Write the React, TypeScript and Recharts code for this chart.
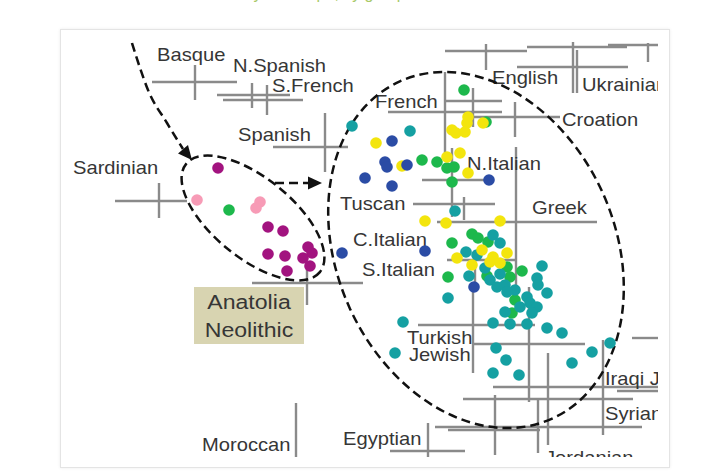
import React from 'react';
import { ComposedChart, Scatter, Line, XAxis, YAxis, ErrorBar } from 'recharts';

// PCA positions (PC1 → x, PC2 → y, y grows downward)
const anatoliaNeolithic = [
  { x: 218, y: 168 }, { x: 268, y: 227 }, { x: 283, y: 231 }, { x: 268, y: 254 }, { x: 285, y: 256 },
  { x: 308, y: 247 }, { x: 312, y: 253 }, { x: 303, y: 258 }, { x: 310, y: 266 }, { x: 287, y: 271 },
];
const anatoliaPink = [{ x: 197, y: 200 }, { x: 260, y: 202 }, { x: 256, y: 208 }];
const greenSamples = [
  { x: 229, y: 210 }, { x: 464, y: 90 }, { x: 486, y: 122 }, { x: 422, y: 160 }, { x: 437, y: 162 },
  { x: 447, y: 168 }, { x: 454, y: 167 }, { x: 452, y: 182 }, { x: 472, y: 234 }, { x: 452, y: 243 },
  { x: 488, y: 242 }, { x: 478, y: 238 }, { x: 448, y: 277 }, { x: 507, y: 267 }, { x: 510, y: 277 },
  { x: 522, y: 271 }, { x: 487, y: 276 }, { x: 515, y: 300 }, { x: 512, y: 313 },
];
const tealSamples = [
  { x: 352, y: 126 }, { x: 410, y: 131 }, { x: 455, y: 211 }, { x: 493, y: 235 }, { x: 500, y: 243 },
  { x: 466, y: 252 }, { x: 477, y: 255 }, { x: 469, y: 276 }, { x: 448, y: 298 }, { x: 490, y: 280 },
  { x: 497, y: 287 }, { x: 505, y: 285 }, { x: 515, y: 290 }, { x: 507, y: 292 }, { x: 542, y: 266 },
  { x: 537, y: 278 }, { x: 538, y: 285 }, { x: 547, y: 293 }, { x: 527, y: 297 }, { x: 530, y: 303 },
  { x: 537, y: 307 }, { x: 520, y: 307 }, { x: 532, y: 313 }, { x: 505, y: 312 }, { x: 493, y: 323 },
  { x: 510, y: 324 }, { x: 527, y: 324 }, { x: 403, y: 322 }, { x: 547, y: 328 }, { x: 562, y: 333 },
  { x: 496, y: 348 }, { x: 506, y: 360 }, { x: 493, y: 373 }, { x: 519, y: 375 }, { x: 572, y: 363 },
  { x: 592, y: 352 }, { x: 610, y: 343 }, { x: 395, y: 353 }, { x: 485, y: 268 }, { x: 500, y: 274 },
];
const yellowSamples = [
  { x: 376, y: 143 }, { x: 468, y: 117 }, { x: 467, y: 123 }, { x: 452, y: 130 }, { x: 456, y: 133 },
  { x: 465, y: 132 }, { x: 483, y: 123 }, { x: 402, y: 166 }, { x: 447, y: 157 }, { x: 460, y: 153 },
  { x: 468, y: 173 }, { x: 425, y: 221 }, { x: 446, y: 223 }, { x: 500, y: 221 }, { x: 457, y: 258 },
  { x: 482, y: 250 }, { x: 493, y: 257 }, { x: 490, y: 262 }, { x: 500, y: 263 }, { x: 472, y: 265 },
  { x: 507, y: 253 },
];
const blueSamples = [
  { x: 392, y: 141 }, { x: 385, y: 162 }, { x: 387, y: 167 }, { x: 407, y: 165 }, { x: 365, y: 178 },
  { x: 392, y: 186 }, { x: 489, y: 180 }, { x: 342, y: 253 }, { x: 425, y: 251 }, { x: 474, y: 287 },
];

// reference populations: centre and the extent of each bar
const refCentres = [
  [195, 82], [252, 95], [267, 100], [325, 147], [159, 201], [307, 283], [296, 430], [428, 451],
  [486, 51], [573, 47], [577, 67], [648, 45], [473, 101], [445, 112], [515, 117], [452, 180],
  [464, 204], [516, 222], [475, 260], [529, 325], [473, 344], [603, 387], [538, 399], [548, 427],
  [495, 430], [645, 338], [640, 391],
];
const refXRange = [
  [152, 237], [217, 290], [223, 303], [273, 348], [115, 187], [252, 363], [296, 296], [390, 465],
  [445, 527], [527, 627], [517, 628], [608, 660], [445, 502], [388, 502], [470, 560], [422, 488],
  [413, 495], [437, 597], [447, 515], [418, 535], [473, 585], [493, 660], [463, 633], [435, 642],
  [448, 540], [632, 660], [617, 660],
];
const refYRange = [
  [65, 100], [83, 108], [85, 115], [113, 172], [183, 218], [262, 305], [403, 457], [423, 458],
  [44, 70], [42, 93], [50, 93], [43, 62], [88, 127], [72, 153], [102, 137], [148, 217],
  [197, 220], [147, 310], [250, 290], [287, 402], [285, 373], [340, 435], [399, 453], [353, 445],
  [395, 455], [338, 338], [391, 391],
];

const labelNames = [
  'Basque', 'N.Spanish', 'S.French', 'Spanish', 'Sardinian', 'English', 'Ukrainian', 'French',
  'Croation', 'N.Italian', 'Tuscan', 'Greek', 'C.Italian', 'S.Italian', 'Turkish', 'Jewish',
  'Iraqi Jewish', 'Syrian', 'Jordanian', 'Moroccan', 'Egyptian',
];
const labelAnchors = [
  [157, 61], [233, 72], [272, 92], [238, 141], [73, 174], [492, 84], [582, 91], [375, 108],
  [562, 126], [467, 170], [340, 210], [532, 214], [353, 246], [362, 276], [407, 344], [409, 361],
  [605, 385], [605, 420], [545, 464], [202, 451], [343, 445],
];

const groupCentres = [[253, 218], [476, 250]];
const groupRadii = [[86, 40], [185, 139]];
const groupTilt = [39, 65.7];

const migrationPath = [
  { x: 132, y: 43 }, { x: 140, y: 68 }, { x: 148, y: 90 }, { x: 167, y: 123 }, { x: 183, y: 149 },
];
const spreadPath = [{ x: 275, y: 183 }, { x: 311, y: 183 }];
const arrowTips = [{ x: 192, y: 160, angle: 50 }, { x: 322, y: 183, angle: 0 }];
const boxLabel = [{ x: 249, y: 315, lines: ['Anatolia', 'Neolithic'] }];

const refs = refCentres.map(([x, y], i) => ({
  x,
  y,
  ex: [x - refXRange[i][0], refXRange[i][1] - x],
  ey: [y - refYRange[i][0], refYRange[i][1] - y],
}));
const labels = labelNames.map((name, i) => ({ name, x: labelAnchors[i][0], y: labelAnchors[i][1] }));
const groups = groupCentres.map(([x, y], i) => ({ x, y, rx: groupRadii[i][0], ry: groupRadii[i][1], tilt: groupTilt[i] }));

const FONT = '"Liberation Sans", Arial, Helvetica, sans-serif';
const TEXT = '#363636';
const GREY = '#8a8a8a';

const dot = (fill: string) => (p: any) => <circle cx={p.cx} cy={p.cy} r={5.8} fill={fill} />;

const labelShape = (p: any) => {
  const d = p.payload ?? p;
  return (
    <text
      x={0}
      y={0}
      transform={`translate(${p.cx} ${p.cy}) scale(1.12 1)`}
      fontFamily={FONT}
      fontSize={18}
      fill={TEXT}
    >
      {d.name}
    </text>
  );
};

const ellipseShape = (p: any) => {
  const d = p.payload ?? p;
  return (
    <ellipse
      cx={p.cx}
      cy={p.cy}
      rx={d.rx}
      ry={d.ry}
      transform={`rotate(${d.tilt} ${p.cx} ${p.cy})`}
      fill="none"
      stroke="#111"
      strokeWidth={2.5}
      strokeDasharray="9 5"
    />
  );
};

const arrowShape = (p: any) => {
  const d = p.payload ?? p;
  return <polygon points="0,0 -14,-6.5 -14,6.5" fill="#111" transform={`translate(${p.cx} ${p.cy}) rotate(${d.angle})`} />;
};

const boxShape = (p: any) => {
  const d = p.payload ?? p;
  return (
    <g>
      <rect x={p.cx - 55} y={p.cy - 28} width={110} height={57} fill="#d8d4b1" />
      {d.lines.map((t: string, i: number) => (
        <text
          key={t}
          x={0}
          y={0}
          transform={`translate(${p.cx} ${p.cy - 6 + i * 28}) scale(1.1 1)`}
          textAnchor="middle"
          fontFamily={FONT}
          fontSize={21}
          fill={TEXT}
        >
          {t}
        </text>
      ))}
    </g>
  );
};

const none = () => <g />;

export default function App() {
  return (
    <div style={{ position: 'absolute', left: 0, top: 0, width: 705, height: 472, background: '#fff', overflow: 'hidden' }}>
      <div style={{ position: 'absolute', left: 64, top: -15, fontFamily: FONT, fontSize: 16, color: '#a9c968' }}>
        Anatolian Neolithic ancestry in Europe, by group
      </div>
      <div
        style={{
          position: 'absolute',
          left: 60,
          top: 29,
          width: 610,
          height: 439,
          boxSizing: 'border-box',
          border: '1px solid #e4e4e4',
          boxShadow: '0 0 3px rgba(0,0,0,0.08)',
          background: '#fff',
        }}
      />
      <div style={{ position: 'absolute', left: 60, top: 30, width: 598, height: 427, overflow: 'hidden' }}>
        <ComposedChart width={598} height={427} margin={{ top: 0, right: 0, bottom: 0, left: 0 }}>
          <XAxis type="number" dataKey="x" domain={[60, 658]} hide allowDataOverflow />
          <YAxis type="number" dataKey="y" domain={[30, 457]} reversed hide allowDataOverflow />
          <Scatter data={refs} shape={none} isAnimationActive={false}>
            <ErrorBar dataKey="ex" direction="x" width={0} stroke={GREY} strokeWidth={2.4} isAnimationActive={false} />
            <ErrorBar dataKey="ey" direction="y" width={0} stroke={GREY} strokeWidth={2.4} isAnimationActive={false} />
          </Scatter>
          <Scatter data={labels} shape={labelShape} isAnimationActive={false} />
          <Scatter data={boxLabel} shape={boxShape} isAnimationActive={false} />
          <Scatter data={groups} shape={ellipseShape} isAnimationActive={false} />
          <Scatter data={greenSamples} shape={dot('#1db84c')} isAnimationActive={false} />
          <Scatter data={tealSamples} shape={dot('#15a0a2')} isAnimationActive={false} />
          <Scatter data={yellowSamples} shape={dot('#f3e50d')} isAnimationActive={false} />
          <Scatter data={blueSamples} shape={dot('#2b4ca5')} isAnimationActive={false} />
          <Scatter data={anatoliaNeolithic} shape={dot('#a2137f')} isAnimationActive={false} />
          <Scatter data={anatoliaPink} shape={dot('#f79bb6')} isAnimationActive={false} />
          <Line data={migrationPath} dataKey="y" type="monotone" stroke="#111" strokeWidth={2.5} strokeDasharray="9 5" dot={false} isAnimationActive={false} />
          <Line data={spreadPath} dataKey="y" type="linear" stroke="#111" strokeWidth={2.5} strokeDasharray="9 5" dot={false} isAnimationActive={false} />
          <Scatter data={arrowTips} shape={arrowShape} isAnimationActive={false} />
        </ComposedChart>
      </div>
    </div>
  );
}
